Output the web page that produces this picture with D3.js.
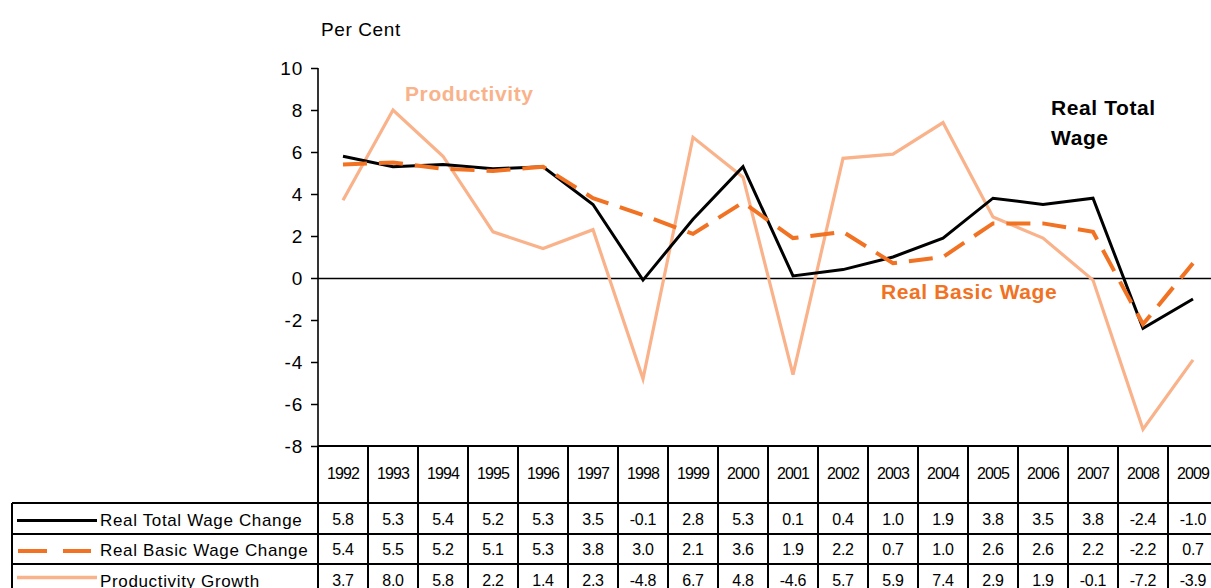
<!DOCTYPE html>
<html><head><meta charset="utf-8">
<script src="https://cdn.jsdelivr.net/npm/d3@7"></script>
<style>body{margin:0;background:#fff;} svg{display:block;font-family:"Liberation Sans",Arial,sans-serif;}</style>
</head><body>
<svg id="c" width="1211" height="588"></svg>
<script>
const years = ["1992","1993","1994","1995","1996","1997","1998","1999","2000","2001","2002","2003","2004","2005","2006","2007","2008","2009"];
const realTotal = [5.8,5.3,5.4,5.2,5.3,3.5,-0.1,2.8,5.3,0.1,0.4,1.0,1.9,3.8,3.5,3.8,-2.4,-1.0];
const realBasic = [5.4,5.5,5.2,5.1,5.3,3.8,3.0,2.1,3.6,1.9,2.2,0.7,1.0,2.6,2.6,2.2,-2.2,0.7];
const productivity = [3.7,8.0,5.8,2.2,1.4,2.3,-4.8,6.7,4.8,-4.6,5.7,5.9,7.4,2.9,1.9,-0.1,-7.2,-3.9];
const yTicks = [-8,-6,-4,-2,0,2,4,6,8,10];
const seriesNames = ["Real Total Wage Change","Real Basic Wage Change","Productivity Growth"];

const cBlack = "#000000", cOrange = "#F07222", cLight = "#F9B28A";
const svg = d3.select("#c");
const x = d3.scaleBand().domain(years).range([318, 1218]);
const y = d3.scaleLinear().domain([-8, 10]).range([446, 68]);
const cx = d => x(d) + x.bandwidth()/2;
const hy = s => String(s).replace("\u2212","-");

// y axis
const ax = svg.append("g").attr("transform","translate(318,0)")
  .call(d3.axisLeft(y).tickValues(yTicks).tickSize(7).tickPadding(8).tickFormat(d => hy(d)));
ax.select(".domain").attr("stroke","#000").attr("stroke-width",1.6).attr("d","M0,68V446");
ax.selectAll(".tick line").attr("stroke","#000").attr("stroke-width",1.5);
ax.selectAll(".tick text").attr("font-size",19).attr("letter-spacing",0.8).attr("fill","#000")
  .attr("font-family","Liberation Sans, Arial, sans-serif");

svg.append("text").attr("x",321).attr("y",36).attr("font-size",19).attr("letter-spacing",0.6).text("Per Cent");

// zero line
svg.append("line").attr("x1",318).attr("x2",1211).attr("y1",y(0)+0.5).attr("y2",y(0)+0.5).attr("stroke","#000").attr("stroke-width",1.3);

const line = d3.line().x((d,i)=>cx(years[i])).y(d=>y(d));
svg.append("path").datum(productivity).attr("d",line).attr("fill","none").attr("stroke",cLight).attr("stroke-width",3.2).attr("stroke-linejoin","miter");
svg.append("path").datum(realTotal).attr("d",line).attr("fill","none").attr("stroke",cBlack).attr("stroke-width",3).attr("stroke-linejoin","miter");
svg.append("path").datum(realBasic).attr("d",line).attr("fill","none").attr("stroke",cOrange).attr("stroke-width",4).attr("stroke-dasharray","24,12");

// labels
svg.append("text").attr("x",405).attr("y",101).attr("font-size",21).attr("letter-spacing",0.6).attr("font-weight","bold").attr("fill",cLight).text("Productivity");
svg.append("text").attr("x",1051).attr("y",115).attr("font-size",21).attr("letter-spacing",0.6).attr("font-weight","bold").attr("fill","#000").text("Real Total");
svg.append("text").attr("x",1051).attr("y",145).attr("font-size",21).attr("letter-spacing",0.6).attr("font-weight","bold").attr("fill","#000").text("Wage");
svg.append("text").attr("x",881).attr("y",299).attr("font-size",21).attr("letter-spacing",0.6).attr("font-weight","bold").attr("fill",cOrange).text("Real Basic Wage");

// table
const tg = svg.append("g");
const rowTops = [503, 534, 564, 595];
const lw = 2;
tg.append("line").attr("x1",318).attr("x2",1211).attr("y1",446).attr("y2",446).attr("stroke","#000").attr("stroke-width",lw);
rowTops.slice(0,3).forEach(r => tg.append("line").attr("x1",12).attr("x2",1211).attr("y1",r).attr("y2",r).attr("stroke","#000").attr("stroke-width",lw));
years.forEach(yr => tg.append("line").attr("x1",x(yr)).attr("x2",x(yr)).attr("y1",446).attr("y2",600).attr("stroke","#000").attr("stroke-width",lw));
tg.append("line").attr("x1",12).attr("x2",12).attr("y1",503).attr("y2",600).attr("stroke","#000").attr("stroke-width",lw);

years.forEach(yr => tg.append("text").attr("x",cx(yr)).attr("y",479).attr("text-anchor","middle")
  .attr("font-size",16).attr("letter-spacing",-0.9).text(yr));

const rows = [realTotal, realBasic, productivity];
const fmt = v => hy(d3.format(".1f")(v));
rows.forEach((vals, ri) => {
  const mid = (rowTops[ri] + rowTops[ri+1]) / 2;
  vals.forEach((v, i) => tg.append("text").attr("x",cx(years[i])).attr("y",mid+6).attr("text-anchor","middle")
    .attr("font-size",16).attr("letter-spacing",-0.3).text(fmt(v)));
  tg.append("text").attr("x",100).attr("y",mid+7).attr("font-size",17).attr("letter-spacing",0.65).text(seriesNames[ri]);
});
const m0 = (rowTops[0]+rowTops[1])/2, m1=(rowTops[1]+rowTops[2])/2, m2=(rowTops[2]+rowTops[3])/2;
tg.append("line").attr("x1",17).attr("x2",97).attr("y1",m0+2).attr("y2",m0+2).attr("stroke",cBlack).attr("stroke-width",3);
tg.append("line").attr("x1",18).attr("x2",91).attr("y1",m1+2).attr("y2",m1+2).attr("stroke",cOrange).attr("stroke-width",4).attr("stroke-dasharray","29,16");
tg.append("line").attr("x1",17).attr("x2",97).attr("y1",m2-2).attr("y2",m2-2).attr("stroke",cLight).attr("stroke-width",3.5);
</script>
</body></html>
